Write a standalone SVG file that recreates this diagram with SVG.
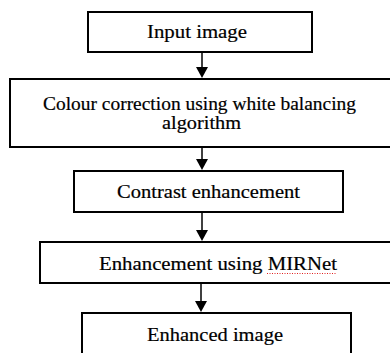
<svg xmlns="http://www.w3.org/2000/svg" width="390" height="353" viewBox="0 0 390 353">
<style>
.box{fill:#fff;stroke:#000;stroke-width:2}
.t{font-family:"Liberation Serif","Times New Roman",serif;font-size:19px;fill:#000;text-anchor:middle;stroke:#000;stroke-width:0.2}
.c{stroke:#000;stroke-width:1.5;fill:none}
.ah{fill:#000}
</style>
<rect width="390" height="353" fill="#fff"/>
<g id="connectors">
<path class="c" d="M202,52 V70"/>
<path class="ah" d="M196,67 H208 L202,78 Z"/>
<path class="c" d="M202,147 V162"/>
<path class="ah" d="M196,159 H208 L202,170 Z"/>
<path class="c" d="M202,212 V233"/>
<path class="ah" d="M196,230 H208 L202,241 Z"/>
<path class="c" d="M201,283 V304"/>
<path class="ah" d="M195,301 H207 L201,312 Z"/>
</g>
<g id="n1"><rect class="box" x="88" y="12" width="224" height="40"/><text class="t" x="197" y="38" textLength="100" lengthAdjust="spacingAndGlyphs">Input image</text></g>
<g id="n2"><rect class="box" x="10" y="79" width="392" height="68"/><text class="t" x="199.5" y="110" textLength="313" lengthAdjust="spacingAndGlyphs">Colour correction using white balancing</text><text class="t" x="201.5" y="129" textLength="79" lengthAdjust="spacingAndGlyphs">algorithm</text></g>
<g id="n3"><rect class="box" x="74" y="171" width="269" height="41"/><text class="t" x="208.5" y="198" textLength="183" lengthAdjust="spacingAndGlyphs">Contrast enhancement</text></g>
<g id="n4"><rect class="box" x="40" y="242" width="362" height="41"/><text class="t" x="218" y="270" textLength="238" lengthAdjust="spacingAndGlyphs">Enhancement using MIRNet</text><line x1="267" y1="273.5" x2="337" y2="273.5" stroke="#e02020" stroke-width="1" stroke-dasharray="1,1.5"/></g>
<g id="n5"><rect class="box" x="82" y="313" width="269" height="50"/><text class="t" x="215" y="341" textLength="136" lengthAdjust="spacingAndGlyphs">Enhanced image</text></g>
</svg>
